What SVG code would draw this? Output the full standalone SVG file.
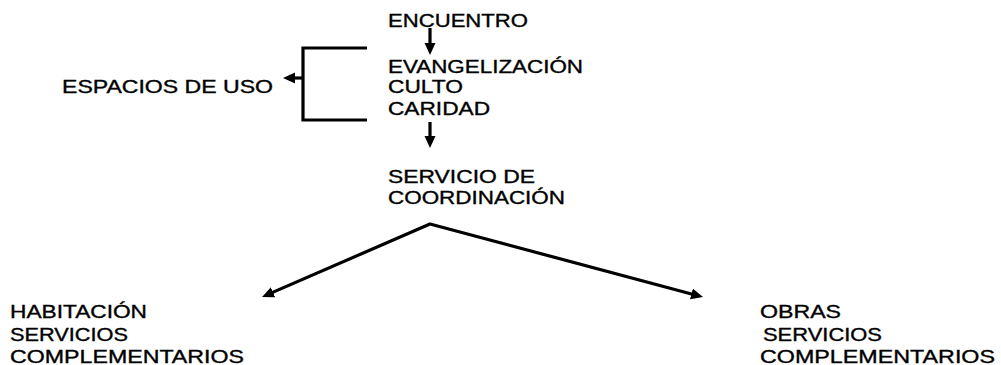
<svg xmlns="http://www.w3.org/2000/svg" width="1001" height="365" viewBox="0 0 1001 365">
<style>
text{font-family:"Liberation Sans",Arial,sans-serif;font-size:18px;fill:#000;stroke:#000;stroke-width:0.35}
.ln{fill:none;stroke:#000;stroke-width:3.2}
</style>
<defs>
<marker id="ah" markerUnits="userSpaceOnUse" markerWidth="14" markerHeight="12" refX="3" refY="5.5" orient="auto-start-reverse">
<path d="M0,0 L12,5.5 L0,11 z" fill="#000"/>
</marker>
</defs>
<rect width="1001" height="365" fill="#fff"/>
<g id="connectors">
<line class="ln" x1="430" y1="28" x2="430" y2="46" marker-end="url(#ah)"/>
<line class="ln" x1="430" y1="122" x2="430" y2="139" marker-end="url(#ah)"/>
<path class="ln" d="M367,48 H303 V120 H367"/>
<line class="ln" x1="303" y1="78" x2="292" y2="78" marker-end="url(#ah)"/>
<polyline class="ln" stroke-linejoin="round" points="270.3,293.4 430,224 694.3,294.7" marker-start="url(#ah)" marker-end="url(#ah)"/>
</g>
<g id="n-central">
<text x="388" y="27" textLength="140" lengthAdjust="spacingAndGlyphs">ENCUENTRO</text>
<text x="388" y="73" textLength="195" lengthAdjust="spacingAndGlyphs">EVANGELIZACIÓN</text>
<text x="388" y="93" textLength="75" lengthAdjust="spacingAndGlyphs">CULTO</text>
<text x="388" y="115" textLength="102" lengthAdjust="spacingAndGlyphs">CARIDAD</text>
</g>
<g id="n-espacios">
<text x="62" y="93" textLength="211" lengthAdjust="spacingAndGlyphs">ESPACIOS DE USO</text>
</g>
<g id="n-coordinacion">
<text x="388" y="183" textLength="147" lengthAdjust="spacingAndGlyphs">SERVICIO DE</text>
<text x="388" y="204" textLength="177" lengthAdjust="spacingAndGlyphs">COORDINACIÓN</text>
</g>
<g id="n-habitacion">
<text x="10" y="318" textLength="137" lengthAdjust="spacingAndGlyphs">HABITACIÓN</text>
<text x="10" y="341" textLength="118" lengthAdjust="spacingAndGlyphs">SERVICIOS</text>
<text x="10" y="363" textLength="234" lengthAdjust="spacingAndGlyphs">COMPLEMENTARIOS</text>
</g>
<g id="n-obras">
<text x="760" y="318" textLength="81" lengthAdjust="spacingAndGlyphs">OBRAS</text>
<text x="763" y="341" textLength="119" lengthAdjust="spacingAndGlyphs">SERVICIOS</text>
<text x="760" y="363" textLength="235" lengthAdjust="spacingAndGlyphs">COMPLEMENTARIOS</text>
</g>
</svg>
